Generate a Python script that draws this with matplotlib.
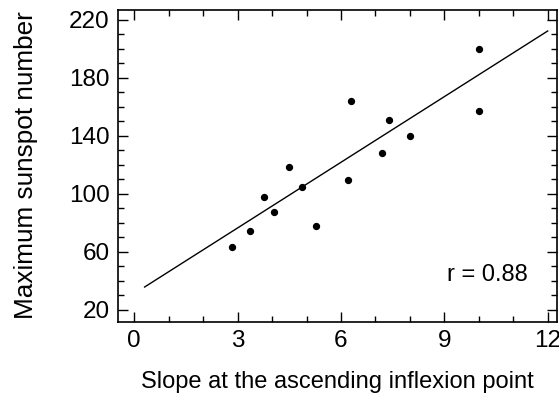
import matplotlib
matplotlib.use("Agg")
import matplotlib.pyplot as plt
from matplotlib.ticker import MultipleLocator

plt.rcParams['font.family'] = ['Liberation Sans', 'DejaVu Sans']

# Slope at ascending inflexion point vs maximum sunspot number
slope = [2.83, 3.35, 3.76, 4.06, 4.49, 4.88, 5.27, 6.19, 6.30,
         7.20, 7.39, 8.00, 10.01, 10.01]
max_sunspot = [63.7, 74.5, 97.9, 87.4, 118.6, 105.0, 77.9, 109.9, 164.1,
               128.5, 151.2, 140.0, 200.0, 157.5]

# Regression line
fit_x = [0.3, 12.0]
fit_slope = 15.09
fit_intercept = 31.3
fit_y = [fit_intercept + fit_slope * x for x in fit_x]

x_ticks = [0, 3, 6, 9, 12]
y_ticks = [20, 60, 100, 140, 180, 220]

fig = plt.figure(figsize=(5.59, 4.03), dpi=100)
ax = fig.add_axes([0.2106, 0.2017, 0.7858, 0.7747])

ax.plot(fit_x, fit_y, color='black', lw=1.0)
ax.scatter(slope, max_sunspot, s=18, color='black', zorder=3)
ax.text(9.07, 44, 'r = 0.88', fontsize=17, va='center', ha='left')

ax.set_xlim(-0.48, 12.27)
ax.set_ylim(11.9, 227.2)
ax.set_xticks(x_ticks)
ax.set_yticks(y_ticks)
ax.xaxis.set_minor_locator(MultipleLocator(1))
ax.yaxis.set_minor_locator(MultipleLocator(10))
ax.tick_params(which='both', direction='in', top=True, right=True,
               labelsize=17.5, width=1.0)
ax.tick_params(which='major', length=7, pad=6)
ax.tick_params(which='minor', length=4)
for sp in ax.spines.values():
    sp.set_linewidth(1.2)

ax.set_xlabel('Slope at the ascending inflexion point', fontsize=17,
              labelpad=14)
ax.set_ylabel('Maximum sunspot number', fontsize=18.8, labelpad=22)

fig.savefig('out.png', dpi=100)
